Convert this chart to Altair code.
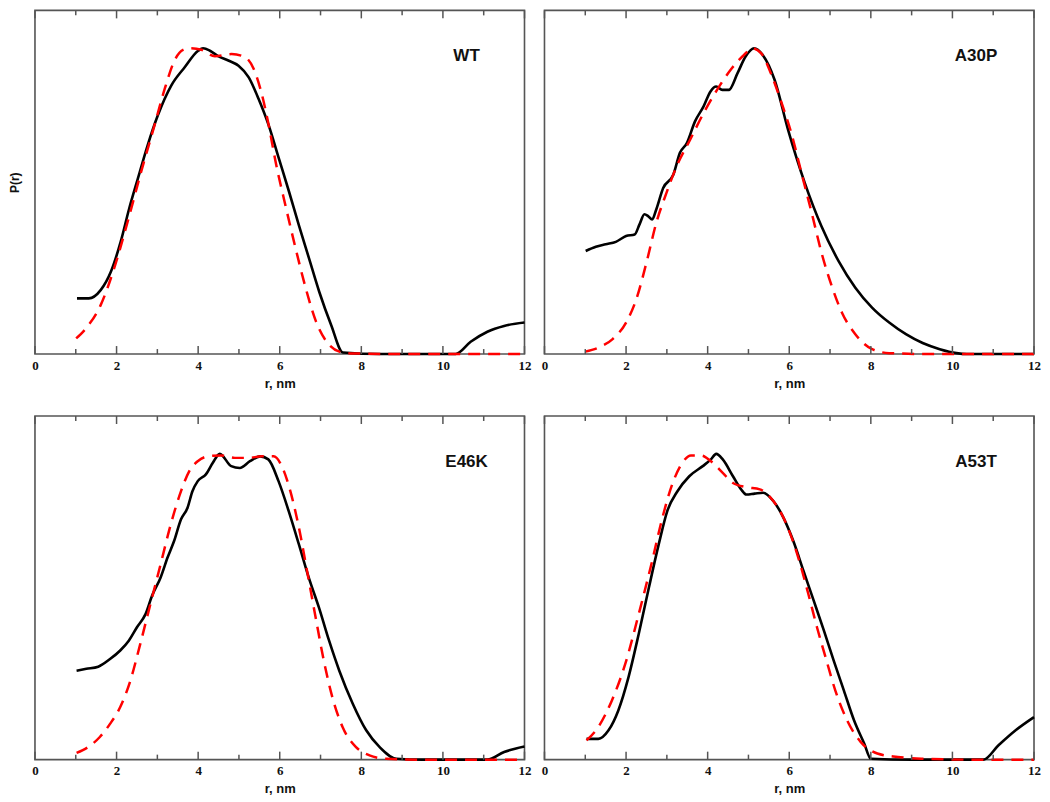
import altair as alt
import pandas as pd

# ---------------- data ----------------
panel_names = ["WT", "A30P", "E46K", "A53T"]

# WT
wt_exp_r = [1.03, 1.32, 1.61, 1.86, 2.10, 2.31, 2.52, 2.76, 3.01, 3.34, 3.67, 4.00, 4.12, 4.29, 4.49, 4.74,
            4.99, 5.24, 5.48, 5.73, 5.98, 6.23, 6.47, 6.72, 6.97, 7.26, 7.55, 8.5, 9.5, 10.31, 10.68, 11.09,
            11.5, 12.0]
wt_exp_p = [0.182, 0.182, 0.209, 0.269, 0.367, 0.476, 0.573, 0.682, 0.780, 0.878, 0.938, 0.992, 1.0, 0.992,
            0.974, 0.960, 0.943, 0.905, 0.835, 0.748, 0.639, 0.530, 0.421, 0.312, 0.203, 0.095, 0.005, 0.0,
            0.0, 0.0, 0.040, 0.073, 0.092, 0.103]
wt_fit_r = [1.01, 1.28, 1.61, 1.94, 2.27, 2.60, 2.93, 3.18, 3.42, 3.63, 3.79, 4.08, 4.41, 4.82, 5.15, 5.36,
            5.57, 5.73, 5.90, 6.14, 6.39, 6.64, 6.89, 7.18, 7.46, 7.8, 9.0, 10.5, 12.0]
wt_fit_p = [0.051, 0.089, 0.160, 0.280, 0.432, 0.595, 0.748, 0.867, 0.960, 0.995, 1.0, 0.995, 0.974, 0.981,
            0.971, 0.933, 0.845, 0.748, 0.628, 0.486, 0.345, 0.214, 0.106, 0.035, 0.008, 0.002, 0.0, 0.0, 0.0]

# A30P
a30p_exp_r = [1.01, 1.26, 1.50, 1.75, 2.00, 2.21, 2.33, 2.45, 2.54, 2.64, 2.74, 2.91, 3.16, 3.32, 3.49, 3.69,
              3.90, 4.07, 4.21, 4.36, 4.52, 4.73, 4.93, 5.14, 5.35, 5.64, 5.97, 6.38, 6.79, 7.21, 7.62, 8.03,
              8.45, 8.86, 9.27, 9.69, 10.1, 10.35, 11.0, 12.0]
a30p_exp_p = [0.337, 0.351, 0.359, 0.367, 0.386, 0.391, 0.424, 0.457, 0.451, 0.440, 0.473, 0.543, 0.587,
              0.658, 0.690, 0.761, 0.810, 0.859, 0.875, 0.864, 0.864, 0.918, 0.973, 1.0, 0.978, 0.897, 0.734,
              0.560, 0.418, 0.304, 0.217, 0.152, 0.103, 0.065, 0.036, 0.016, 0.003, 0.0, 0.0, 0.0]
a30p_fit_r = [1.00, 1.34, 1.67, 2.00, 2.25, 2.50, 2.74, 2.99, 3.24, 3.57, 3.90, 4.23, 4.56, 4.89, 5.10, 5.31,
              5.55, 5.80, 6.05, 6.30, 6.55, 6.79, 7.04, 7.29, 7.62, 8.03, 8.45, 9.5, 10.5, 12.0]
a30p_fit_p = [0.008, 0.022, 0.049, 0.103, 0.179, 0.299, 0.429, 0.527, 0.614, 0.701, 0.788, 0.864, 0.929,
              0.978, 1.0, 0.984, 0.918, 0.826, 0.723, 0.592, 0.462, 0.332, 0.223, 0.136, 0.065, 0.016, 0.003,
              0.0, 0.0, 0.0]

# E46K
e46k_exp_r = [1.02, 1.26, 1.55, 1.84, 2.09, 2.30, 2.50, 2.71, 2.87, 3.08, 3.25, 3.41, 3.58, 3.74, 3.86, 3.99,
              4.19, 4.36, 4.53, 4.81, 5.02, 5.27, 5.52, 5.72, 5.97, 6.22, 6.47, 6.71, 6.96, 7.21, 7.46, 7.79,
              8.12, 8.45, 8.86, 9.5, 10.5, 11.09, 11.5, 12.0]
e46k_exp_p = [0.291, 0.297, 0.304, 0.329, 0.357, 0.389, 0.433, 0.476, 0.536, 0.596, 0.661, 0.715, 0.786,
              0.824, 0.878, 0.911, 0.933, 0.971, 1.0, 0.960, 0.954, 0.976, 0.992, 0.982, 0.911, 0.813, 0.704,
              0.596, 0.498, 0.389, 0.291, 0.183, 0.096, 0.041, 0.003, 0.0, 0.0, 0.0, 0.025, 0.043]
e46k_fit_r = [1.02, 1.30, 1.59, 1.84, 2.09, 2.34, 2.58, 2.83, 3.08, 3.33, 3.58, 3.78, 3.99, 4.24, 4.57, 4.90,
              5.23, 5.56, 5.85, 6.05, 6.26, 6.47, 6.67, 6.88, 7.08, 7.29, 7.54, 7.87, 8.20, 8.61, 9.5, 11.0,
              12.0]
e46k_fit_p = [0.022, 0.041, 0.074, 0.117, 0.172, 0.259, 0.378, 0.509, 0.639, 0.770, 0.878, 0.943, 0.976,
              0.992, 0.995, 0.987, 0.987, 0.992, 0.992, 0.960, 0.878, 0.759, 0.617, 0.465, 0.324, 0.204, 0.107,
              0.041, 0.014, 0.003, 0.0, 0.0, 0.0]

# A53T
a53t_exp_r = [1.03, 1.32, 1.57, 1.81, 2.06, 2.31, 2.56, 2.80, 3.01, 3.26, 3.55, 3.88, 4.08, 4.21, 4.37, 4.62,
              4.82, 4.95, 5.15, 5.36, 5.61, 5.86, 6.10, 6.35, 6.60, 6.85, 7.09, 7.34, 7.59, 7.84, 8.00, 9.0,
              10.0, 10.76, 11.13, 11.55, 12.0]
a53t_exp_p = [0.068, 0.068, 0.096, 0.161, 0.270, 0.411, 0.563, 0.704, 0.813, 0.878, 0.927, 0.960, 0.982,
              1.0, 0.982, 0.927, 0.884, 0.867, 0.870, 0.873, 0.846, 0.791, 0.715, 0.617, 0.520, 0.422, 0.324,
              0.226, 0.128, 0.052, 0.003, 0.0, 0.0, 0.0, 0.047, 0.096, 0.139]
a53t_fit_r = [1.03, 1.32, 1.65, 1.98, 2.31, 2.64, 2.89, 3.13, 3.38, 3.59, 3.84, 4.08, 4.37, 4.62, 4.95, 5.28,
              5.61, 5.86, 6.06, 6.27, 6.47, 6.68, 6.89, 7.13, 7.42, 7.75, 8.16, 8.66, 9.24, 10.5, 12.0]
a53t_fit_p = [0.063, 0.107, 0.193, 0.313, 0.476, 0.650, 0.791, 0.900, 0.971, 0.995, 0.995, 0.976, 0.938,
              0.905, 0.891, 0.884, 0.846, 0.791, 0.726, 0.639, 0.541, 0.433, 0.335, 0.226, 0.128, 0.058, 0.020,
              0.009, 0.003, 0.0, 0.0]

x_major = [0, 2, 4, 6, 8, 10, 12]
x_minor = [1, 3, 5, 7, 9, 11]

# ---------------- styling ----------------
W, H = 490, 344
YMAX = 1.124
FRAME = "#555555"


def panel(name, er, ep, fr, fp, show_ytitle):
    exp_df = pd.DataFrame({"r": er, "p": ep})
    fit_df = pd.DataFrame({"r": fr, "p": fp})
    xs = alt.Scale(domain=[0, 12], nice=False, zero=False)
    ys = alt.Scale(domain=[0, YMAX], nice=False, zero=True)
    xaxis = alt.Axis(values=x_major, ticks=False, domain=False, grid=False, title="r, nm",
                     labelFont="Liberation Serif", labelFontSize=13, labelColor="#111111",
                     labelFontWeight="bold",
                     labelPadding=5, labelFlush=False, format="d",
                     titleFont="Liberation Sans", titleFontSize=13, titleFontWeight="bold",
                     titleColor="#111111", titlePadding=5)
    if show_ytitle:
        yaxis = alt.Axis(title="P(r)", labels=False, ticks=False, domain=False, grid=False,
                         titleFont="Liberation Sans", titleFontSize=12, titleFontWeight="bold",
                         titleColor="#111111", titlePadding=13)
    else:
        yaxis = None

    exp_line = alt.Chart(exp_df).mark_line(color="black", strokeWidth=2.6, interpolate="monotone").encode(
        x=alt.X("r:Q", scale=xs, axis=xaxis),
        y=alt.Y("p:Q", scale=ys, axis=yaxis),
    )
    fit_line = alt.Chart(fit_df).mark_line(color="#ff0000", strokeWidth=2.5, strokeDash=[12, 8],
                                           interpolate="monotone").encode(
        x=alt.X("r:Q", scale=xs), y=alt.Y("p:Q", scale=ys)
    )
    maj_df = pd.DataFrame({"t": x_major})
    min_df = pd.DataFrame({"t": x_minor})
    layers = [exp_line, fit_line]
    for df, ln in ((maj_df, 8), (min_df, 5)):
        layers.append(alt.Chart(df).mark_rule(color=FRAME, strokeWidth=1.5).encode(
            x=alt.X("t:Q", scale=xs), y=alt.value(H), y2=alt.value(H - ln)))
        layers.append(alt.Chart(df).mark_rule(color=FRAME, strokeWidth=1.5).encode(
            x=alt.X("t:Q", scale=xs), y=alt.value(0), y2=alt.value(ln)))
    label = alt.Chart(pd.DataFrame({"name": [name]})).mark_text(
        font="Liberation Sans", fontSize=17, fontWeight="bold", color="#111111",
        align="center", baseline="middle").encode(
        x=alt.value(432), y=alt.value(46), text="name:N")
    layers.append(label)
    return alt.layer(*layers).properties(width=W, height=H)


p1 = panel(panel_names[0], wt_exp_r, wt_exp_p, wt_fit_r, wt_fit_p, True)
p2 = panel(panel_names[1], a30p_exp_r, a30p_exp_p, a30p_fit_r, a30p_fit_p, False)
p3 = panel(panel_names[2], e46k_exp_r, e46k_exp_p, e46k_fit_r, e46k_fit_p, False)
p4 = panel(panel_names[3], a53t_exp_r, a53t_exp_p, a53t_fit_r, a53t_fit_p, False)

chart = alt.concat(p1, p2, p3, p4, columns=2, spacing={"row": 62, "column": 20}, bounds="flush").properties(
    padding=0, background="white"
).configure_view(stroke=FRAME, strokeWidth=1.6)

chart.save("out.html", embed_options={"renderer": "svg", "actions": False})
